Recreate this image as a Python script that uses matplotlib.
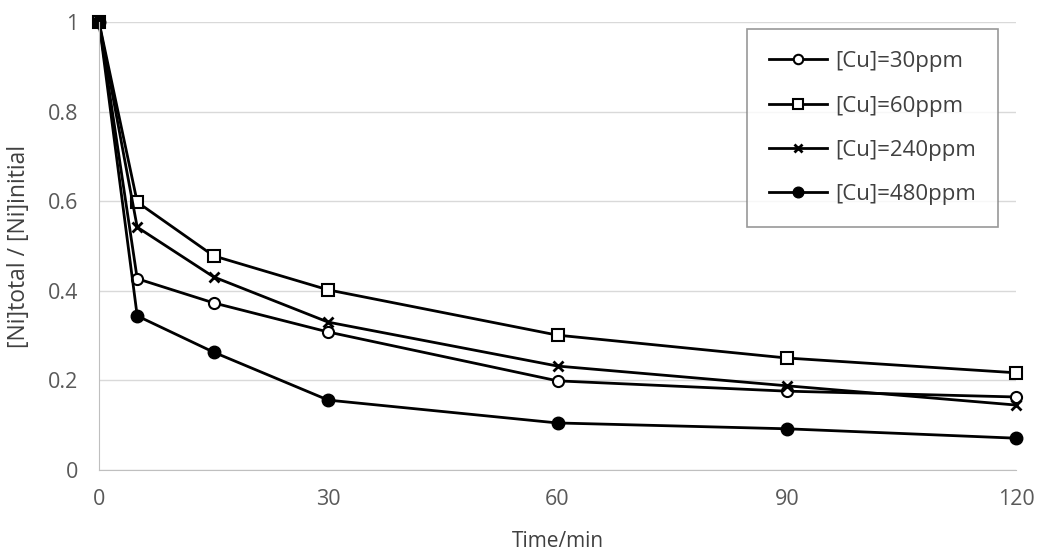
import matplotlib
matplotlib.use('Agg')
import matplotlib.pyplot as plt

plt.rcParams['font.family'] = ['Open Sans', 'DejaVu Sans']

# time points (min)
time_min = [0, 5, 15, 30, 60, 90, 120]

# [Ni]total / [Ni]initial
cu_30 = [1.0, 0.427, 0.373, 0.308, 0.199, 0.176, 0.163]
cu_60 = [1.0, 0.598, 0.478, 0.402, 0.301, 0.250, 0.217]
cu_240 = [1.0, 0.542, 0.431, 0.330, 0.232, 0.188, 0.145]
cu_480 = [1.0, 0.344, 0.263, 0.156, 0.105, 0.092, 0.071]

labels = ['[Cu]=30ppm', '[Cu]=60ppm', '[Cu]=240ppm', '[Cu]=480ppm']

fig = plt.figure(figsize=(10.44, 5.6), dpi=100)
ax = fig.add_axes([99 / 1044, 90 / 560, 917 / 1044, 448 / 560])

ax.plot(time_min, cu_30, color='black', lw=2, marker='o', ms=8, mfc='white',
        mec='black', mew=1.5, label=labels[0])
ax.plot(time_min, cu_60, color='black', lw=2, marker='s', ms=8, mfc='white',
        mec='black', mew=1.5, label=labels[1])
ax.plot(time_min, cu_240, color='black', lw=2, marker='x', ms=7,
        mec='black', mew=2, label=labels[2])
ax.plot(time_min, cu_480, color='black', lw=2, marker='o', ms=9, mfc='black',
        mec='black', label=labels[3])

ax.set_xlim(0, 120)
ax.set_ylim(0, 1)
ax.set_xticks([0, 30, 60, 90, 120])
ax.set_yticks([0, 0.2, 0.4, 0.6, 0.8, 1])
ax.set_yticklabels(['0', '0.2', '0.4', '0.6', '0.8', '1'])
ax.grid(axis='y', color='#d9d9d9', lw=1)
ax.set_axisbelow(True)
for s in ['top', 'right']:
    ax.spines[s].set_visible(False)
for s in ['left', 'bottom']:
    ax.spines[s].set_color('#bfbfbf')
ax.tick_params(length=0, labelsize=15.5, colors='#595959')
ax.tick_params(axis='y', pad=15)
ax.tick_params(axis='x', pad=14)
for ln in ax.lines:
    ln.set_clip_on(False)

ax.set_xlabel('Time/min', fontsize=15, color='#404040', labelpad=15)
ax.set_ylabel('[Ni]total / [Ni]initial', fontsize=16.5, color='#404040', labelpad=12)

leg = ax.legend(loc='upper right', bbox_to_anchor=(998 / 1044, 531 / 560),
                bbox_transform=fig.transFigure, fontsize=16, frameon=True,
                fancybox=False, edgecolor='#7f7f7f', labelspacing=1.05,
                handlelength=2.6, handletextpad=0.35, borderpad=1.0,
                borderaxespad=0, markerscale=0.85)
leg.get_frame().set_linewidth(1.2)
for t in leg.get_texts():
    t.set_color('#404040')

fig.savefig('out.png', dpi=100)
